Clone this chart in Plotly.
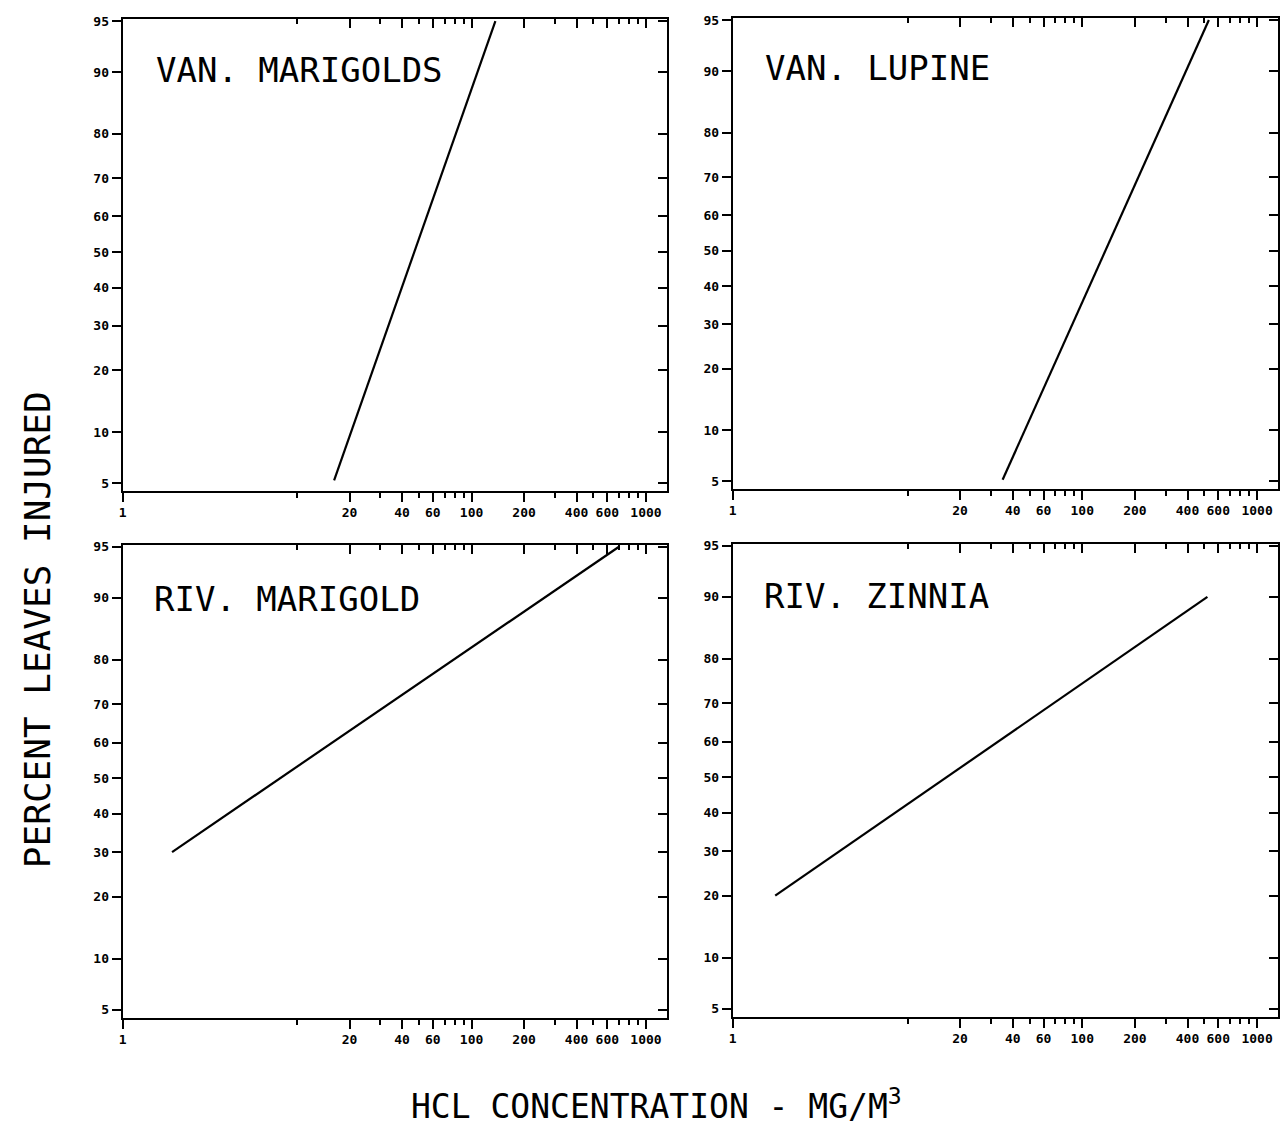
import plotly.graph_objects as go
from statistics import NormalDist

# ---- data ----
panel_titles = ["VAN. MARIGOLDS", "VAN. LUPINE", "RIV. MARIGOLD", "RIV. ZINNIA"]
conc_van_marigolds = [16.3, 137]
pct_van_marigolds = [5.2, 95]
conc_van_lupine = [35, 530]
pct_van_lupine = [5.1, 95]
conc_riv_marigold = [1.92, 700]
pct_riv_marigold = [30, 95]
conc_riv_zinnia = [1.75, 520]
pct_riv_zinnia = [20, 90]

y_tick_pct = [5, 10, 20, 30, 40, 50, 60, 70, 80, 90, 95]
x_major_ticks = [1, 20, 40, 60, 100, 200, 400, 600, 1000]
x_major_labels = ["1", "20", "40", "60", "100", "200", "400", "600", "1000"]
x_minor_ticks = [10, 30, 50, 70, 80, 90, 300, 500, 700, 800, 900]

series_x = [conc_van_marigolds, conc_van_lupine, conc_riv_marigold, conc_riv_zinnia]
series_y = [pct_van_marigolds, pct_van_lupine, pct_riv_marigold, pct_riv_zinnia]

nd = NormalDist()
def probit(p):
    return nd.inv_cdf(p / 100.0)

W, H = 1287, 1132
FONT = "DejaVu Sans Mono"

# panel pixel boxes (left, right, top, bottom)
boxes = [(119, 665, 14, 488), (731, 1278, 13, 486), (119, 665, 542, 1017), (731, 1278, 541, 1016)]
title_pos = [(150, 65), (761, 63), (148, 597), (760, 594)]

fig = go.Figure()
layout = dict(
    width=W, height=H, margin=dict(l=0, r=0, t=0, b=0),
    paper_bgcolor="white", plot_bgcolor="white", showlegend=False,
    font=dict(family=FONT, color="black"),
)

yr = [-1.70, 1.66]
xr = [0, 3.12]
ytv = [probit(p) for p in y_tick_pct]
ytt = [str(p) for p in y_tick_pct]

annotations = []
for i in range(4):
    n = i + 1
    l, r, t, b = boxes[i]
    xd = [l / W, r / W]
    yd = [1 - b / H, 1 - t / H]
    xa = f"xaxis{'' if n == 1 else n}"
    ya = f"yaxis{'' if n == 1 else n}"
    xs = f"x{'' if n == 1 else n}"
    ys = f"y{'' if n == 1 else n}"
    layout[xa] = dict(
        domain=xd, anchor=ys, type="log", range=xr,
        tickvals=x_major_ticks, ticktext=x_major_labels,
        ticks="outside", ticklen=9, tickwidth=2, tickcolor="black",
        minor=dict(tickvals=x_minor_ticks, ticks="outside", ticklen=5, tickwidth=2, tickcolor="black"),
        showgrid=False, zeroline=False,
        showline=True, linecolor="black", linewidth=2, mirror=True,
        tickfont=dict(family=FONT, size=13, color="black", weight="bold"),
    )
    layout[ya] = dict(
        domain=yd, anchor=xs, range=yr,
        tickvals=ytv, ticktext=ytt,
        ticks="outside", ticklen=9, tickwidth=2, tickcolor="black",
        showgrid=False, zeroline=False,
        showline=True, linecolor="black", linewidth=2, mirror=True,
        tickfont=dict(family=FONT, size=13, color="black", weight="bold"),
    )
    # overlay axes for inward ticks on top and right
    nx = n + 4
    layout[f"xaxis{nx}"] = dict(
        overlaying=xs, side="top", anchor=ys, type="log", range=xr,
        tickvals=x_major_ticks, ticks="inside", ticklen=9, tickwidth=2, tickcolor="black",
        minor=dict(tickvals=x_minor_ticks, ticks="inside", ticklen=5, tickwidth=2, tickcolor="black"),
        showticklabels=False, showgrid=False, zeroline=False, showline=False,
    )
    layout[f"yaxis{nx}"] = dict(
        overlaying=ys, side="right", anchor=xs, range=yr,
        tickvals=ytv, ticks="inside", ticklen=9, tickwidth=2, tickcolor="black",
        showticklabels=False, showgrid=False, zeroline=False, showline=False,
    )
    fig.add_trace(go.Scatter(x=series_x[i], y=[probit(p) for p in series_y[i]],
                             mode="lines", line=dict(color="black", width=2.2),
                             xaxis=xs, yaxis=ys, hoverinfo="skip"))
    fig.add_trace(go.Scatter(x=[], y=[], xaxis=f"x{nx}", yaxis=ys, hoverinfo="skip"))
    fig.add_trace(go.Scatter(x=[], y=[], xaxis=xs, yaxis=f"y{nx}", hoverinfo="skip"))
    tx, ty = title_pos[i]
    annotations.append(dict(
        text=panel_titles[i], xref="paper", yref="paper",
        x=tx / W, y=1 - ty / H, xanchor="left", yanchor="middle",
        showarrow=False, font=dict(family=FONT, size=34, color="black"),
    ))

annotations.append(dict(
    text="PERCENT LEAVES INJURED", xref="paper", yref="paper",
    x=33 / W, y=1 - 627 / H, textangle=-90, xanchor="center", yanchor="middle",
    showarrow=False, font=dict(family=FONT, size=36, color="black"),
))
annotations.append(dict(
    text="HCL CONCENTRATION - MG/M<sup>3</sup>", xref="paper", yref="paper",
    x=655 / W, y=1 - 1104 / H, xanchor="center", yanchor="middle",
    showarrow=False, font=dict(family=FONT, size=33, color="black"),
))
layout["annotations"] = annotations
fig.update_layout(**layout)
fig.write_html("out.html", config={"displayModeBar": False},
               post_script="document.body.style.margin='0px';document.body.style.overflow='hidden';")
